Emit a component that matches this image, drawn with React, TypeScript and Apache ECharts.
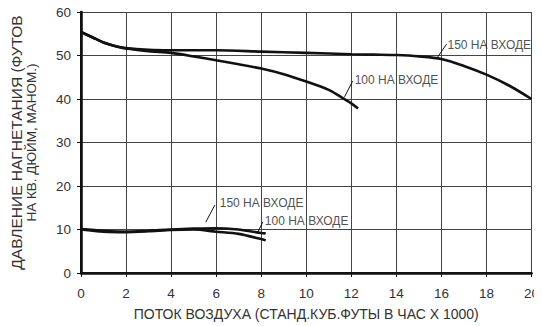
import React, { useEffect, useRef } from "react";
import * as echarts from "echarts";

// Air flow (thousand SCFH) vs. discharge pressure, for two inlet pressures
const upper150X = [0, 0.5, 1, 1.5, 2, 3, 4, 5, 6, 8, 10, 12, 13, 14, 15, 16, 17, 18, 19, 20];
const upper150Y = [55.4, 54.2, 53, 52.2, 51.7, 51.3, 51.2, 51.2, 51.2, 50.9, 50.6, 50.3, 50.2, 50.1, 49.8, 49.2, 47.6, 45.6, 43.1, 40.0];

const upper100X = [0, 0.5, 1, 1.5, 2, 3, 4, 5, 6, 7, 8, 9, 10, 11, 11.5, 12, 12.3];
const upper100Y = [55.4, 54.2, 53, 52.2, 51.6, 51.0, 50.6, 49.8, 48.9, 48.0, 47.0, 45.7, 44.0, 42.1, 40.6, 39.0, 37.8];

const lower150X = [0, 1, 2, 3, 4, 5, 6, 7, 7.5, 8, 8.2];
const lower150Y = [10.1, 9.7, 9.5, 9.7, 10.0, 10.2, 10.3, 10.0, 9.6, 9.2, 9.1];

const lower100X = [0, 1, 2, 3, 4, 5, 6, 7, 8, 8.2];
const lower100Y = [10.0, 9.5, 9.4, 9.6, 9.9, 10.0, 9.5, 9.0, 7.8, 7.5];

// Curve captions in data units
const captionX = [16.27, 12.15, 6.16, 8.16];
const captionY = [52.4, 44.4, 16.1, 12.0];
const captionText = ["150 НА ВХОДЕ", "100 НА ВХОДЕ", "150 НА ВХОДЕ", "100 НА ВХОДЕ"];

// Leader lines from each curve to its caption: [x1, y1, x2, y2]
const leaders = [
  [15.8, 49.4, 16.23, 52.6],
  [11.7, 40.5, 12.06, 44.1],
  [5.54, 11.7, 5.94, 15.6],
  [7.85, 9.4, 8.07, 11.7],
];

const xTitle = "ПОТОК ВОЗДУХА (СТАНД.КУБ.ФУТЫ В ЧАС X 1000)";
const yTitleLine1 = "ДАВЛЕНИЕ НАГНЕТАНИЯ (ФУТОВ";
const yTitleLine2 = "НА КВ. ДЮЙМ, МАНОМ.)";

const FONT = "'Liberation Sans', Arial, sans-serif";

const zip = (xs: number[], ys: number[]) => xs.map((x, i) => [x, ys[i]]);

const curve = (name: string, xs: number[], ys: number[]) => ({
  name,
  type: "line",
  xAxisIndex: 0,
  yAxisIndex: 0,
  data: zip(xs, ys),
  smooth: 0.3,
  showSymbol: false,
  symbol: "none",
  lineStyle: { color: "#111", width: 2.6 },
  silent: true,
  z: 5,
});

// Top and right edges of the frame
const frameAxis = {
  type: "value",
  axisLine: { show: true, lineStyle: { color: "#111", width: 2 } },
  axisTick: { show: false },
  axisLabel: { show: false },
  splitLine: { show: false },
};

export default function App() {
  const ref = useRef<HTMLDivElement>(null);

  useEffect(() => {
    if (!ref.current) return;
    const chart = echarts.init(ref.current, undefined, { renderer: "svg" });
    chart.setOption({
      animation: false,
      grid: { left: 81, right: 10, top: 12, bottom: 53 },
      xAxis: [
        {
          type: "value",
          min: 0,
          max: 20,
          interval: 2,
          position: "bottom",
          name: xTitle,
          nameLocation: "middle",
          nameGap: 34,
          nameTextStyle: { fontFamily: FONT, fontSize: 14, color: "#333" },
          axisLine: { show: true, lineStyle: { color: "#111", width: 2.6 } },
          axisTick: { show: true, length: 4, lineStyle: { color: "#111" } },
          axisLabel: { fontFamily: FONT, fontSize: 13.5, color: "#333", margin: 13 },
          splitLine: { show: true, lineStyle: { color: "#444", width: 1 } },
        },
        { ...frameAxis, min: 0, max: 20, position: "top" },
      ],
      yAxis: [
        {
          type: "value",
          min: 0,
          max: 60,
          interval: 10,
          position: "left",
          name: `{a|${yTitleLine1}}\n{b|${yTitleLine2}}`,
          nameLocation: "middle",
          nameGap: 42,
          nameTextStyle: {
            fontFamily: FONT,
            color: "#333",
            rich: {
              a: { fontFamily: FONT, fontSize: 15.5, lineHeight: 16, color: "#333" },
              b: { fontFamily: FONT, fontSize: 13.5, lineHeight: 15, color: "#333" },
            },
          },
          axisLine: { show: true, lineStyle: { color: "#111", width: 2.6 } },
          axisTick: { show: true, length: 4, lineStyle: { color: "#111" } },
          axisLabel: { fontFamily: FONT, fontSize: 13.5, color: "#333", margin: 10 },
          splitLine: { show: true, lineStyle: { color: "#444", width: 1 } },
        },
        { ...frameAxis, min: 0, max: 60, position: "right" },
      ],
      series: [
        curve("150 вверху", upper150X, upper150Y),
        curve("100 вверху", upper100X, upper100Y),
        curve("150 внизу", lower150X, lower150Y),
        curve("100 внизу", lower100X, lower100Y),
        {
          name: "подписи",
          type: "scatter",
          xAxisIndex: 0,
          yAxisIndex: 0,
          symbolSize: 0,
          silent: true,
          z: 6,
          data: captionX.map((x, i) => [x, captionY[i], captionText[i]]),
          label: {
            show: true,
            position: "right",
            distance: 0,
            formatter: (p: any) => p.data[2],
            fontFamily: FONT,
            fontSize: 12,
            color: "#222",
          },
          markLine: {
            silent: true,
            symbol: "none",
            label: { show: false },
            lineStyle: { color: "#111", width: 1, type: "solid" },
            data: leaders.map(([x1, y1, x2, y2]) => [{ coord: [x1, y1] }, { coord: [x2, y2] }]),
          },
        },
      ],
    });
    return () => chart.dispose();
  }, []);

  // Normal flow; negative margins cancel the body's default 8px margin
  return <div ref={ref} style={{ width: 542, height: 326, marginLeft: -8, marginTop: -8 }} />;
}
